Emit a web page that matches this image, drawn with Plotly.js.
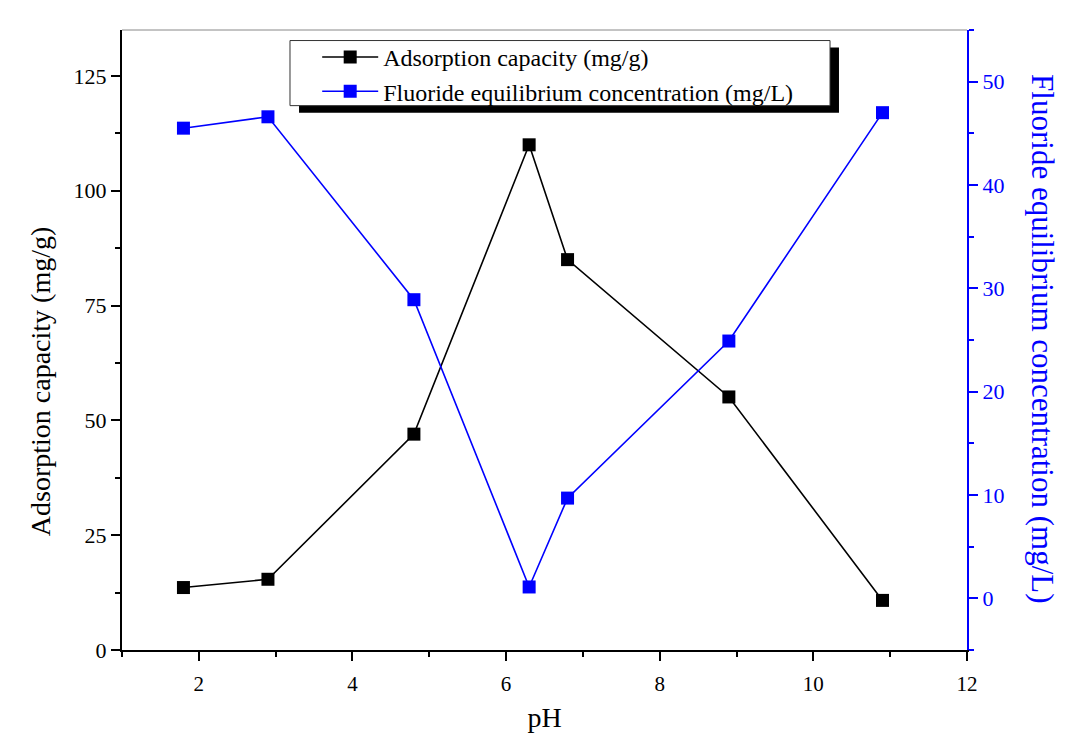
<!DOCTYPE html>
<html>
<head>
<meta charset="utf-8">
<script src="https://cdn.plot.ly/plotly-3.0.1.min.js"></script>
<style>html,body{margin:0;padding:0;background:#fff;}#chart{width:1065px;height:737px;}</style>
</head>
<body>
<div id="chart"></div>
<script>
const pH = [1.8, 2.9, 4.8, 6.3, 6.8, 8.9, 10.9];
const adsorptionCapacity = [13.6, 15.4, 47.0, 110.0, 85.0, 55.1, 10.8];
const fluorideConc = [45.5, 46.6, 28.9, 1.1, 9.7, 24.9, 47.0];
const seriesNames = ["Adsorption capacity (mg/g)", "Fluoride equilibrium concentration (mg/L)"];
const xTitle = "pH";
const yTitle = "Adsorption capacity (mg/g)";
const y2Title = "Fluoride equilibrium concentration (mg/L)";

const FONT = "Liberation Serif, Times New Roman, serif";

const traces = [
  {x: pH, y: adsorptionCapacity, name: seriesNames[0], type: 'scatter', mode: 'lines+markers',
   line: {color: '#000000', width: 1.6}, marker: {symbol: 'square', size: 13, color: '#000000'}},
  {x: pH, y: fluorideConc, name: seriesNames[1], type: 'scatter', mode: 'lines+markers', yaxis: 'y2',
   line: {color: '#0000ff', width: 1.6}, marker: {symbol: 'square', size: 13, color: '#0000ff'}}
];

const layout = {
  width: 1065, height: 737,
  margin: {l: 122, r: 98, t: 30, b: 87, pad: 0},
  paper_bgcolor: '#ffffff', plot_bgcolor: '#ffffff',
  font: {family: FONT, color: '#000'},
  showlegend: true,
  legend: {x: 0.231, y: 0.992, xanchor: 'left', yanchor: 'top', bgcolor: 'rgba(0,0,0,0)',
    borderwidth: 0, font: {family: FONT, size: 24, color: '#000'},
    tracegroupgap: 0, itemwidth: 56},
  xaxis: {range: [1, 12], dtick: 2, tick0: 0, showgrid: false, zeroline: false,
    showline: true, linecolor: '#000', linewidth: 2, ticks: 'outside', ticklen: 9, tickwidth: 2, tickcolor: '#000',
    tickfont: {family: FONT, size: 21}, ticklabelstandoff: 5,
    minor: {dtick: 1, tick0: 0, ticks: 'outside', ticklen: 5, tickwidth: 2, tickcolor: '#000'},
    title: {text: xTitle, font: {family: FONT, size: 28}, standoff: 12}},
  yaxis: {range: [0, 135], dtick: 25, tick0: 0, showgrid: false, zeroline: false,
    showline: true, linecolor: '#000', linewidth: 2, ticks: 'outside', ticklen: 9, tickwidth: 2, tickcolor: '#000',
    tickfont: {family: FONT, size: 22},
    minor: {dtick: 12.5, tick0: 0, ticks: 'outside', ticklen: 5, tickwidth: 2, tickcolor: '#000'}},
  yaxis2: {range: [-5, 55], dtick: 10, tick0: 0, overlaying: 'y', side: 'right', showgrid: false, zeroline: false,
    showline: true, linecolor: '#0000ff', linewidth: 2, ticks: 'outside', ticklen: 9, tickwidth: 2, tickcolor: '#0000ff',
    tickfont: {family: FONT, size: 22, color: '#0000ff'},
    minor: {dtick: 5, tick0: 0, ticks: 'outside', ticklen: 5, tickwidth: 2, tickcolor: '#0000ff'}},
  annotations: [
    {text: yTitle, textangle: -90, xref: 'paper', yref: 'paper', x: -0.097, y: 0.432,
     xanchor: 'center', yanchor: 'middle', showarrow: false, font: {family: FONT, size: 28, color: '#000'}},
    {text: y2Title, textangle: 90, xref: 'paper', yref: 'paper', x: 1.090, y: 0.503,
     xanchor: 'center', yanchor: 'middle', showarrow: false, font: {family: FONT, size: 31, color: '#0000ff'}}
  ],
  shapes: [
    {type: 'line', xref: 'paper', yref: 'paper', x0: 0, x1: 1, y0: 1, y1: 1, line: {color: '#888', width: 1}},
    {type: 'rect', xref: 'paper', yref: 'paper', x0: 0.2095, x1: 0.8485, y0: 0.8667, y1: 0.9717,
     fillcolor: '#000', line: {width: 0}, layer: 'above'},
    {type: 'rect', xref: 'paper', yref: 'paper', x0: 0.1988, x1: 0.8379, y0: 0.878, y1: 0.983,
     fillcolor: '#fff', line: {color: '#333', width: 1}, layer: 'above'}
  ]
};

Plotly.newPlot('chart', traces, layout, {displayModeBar: false, staticPlot: true});
</script>
</body>
</html>
